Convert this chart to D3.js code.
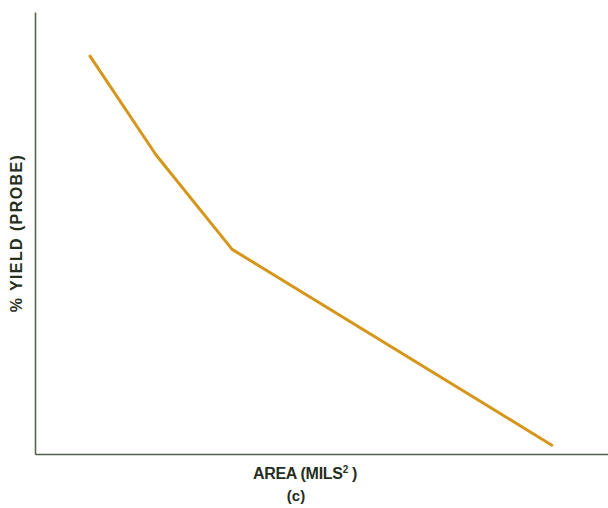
<!DOCTYPE html>
<html>
<head>
<meta charset="utf-8">
<script src="https://cdn.jsdelivr.net/npm/d3@7"></script>
<style>
  html, body { margin: 0; padding: 0; background: #ffffff; }
  svg { display: block; }
  text { font-family: "Liberation Sans", Arial, Helvetica, sans-serif; font-weight: bold; fill: #262e1e; }
</style>
</head>
<body>
<svg id="chart" width="608" height="508"></svg>
<script>
// Yield versus die area (relative units, no tick scale shown)
const areaValues  = [0.96, 2.11, 3.44, 9.02];
const yieldValues = [90.0, 67.7, 46.3, 2.0];
const xTitle = "AREA (MILS";
const yTitle = "% YIELD (PROBE)";
const caption = "(c)";

const svg = d3.select("#chart");
const plot = { left: 35, right: 608, top: 12, bottom: 454 };

const x = d3.scaleLinear().domain([0, 10]).range([plot.left, plot.right]);
const y = d3.scaleLinear().domain([0, 100]).range([plot.bottom, plot.top]);

// Axes: bare lines, no ticks or labels
const xAxis = d3.axisBottom(x).tickValues([]).tickSizeOuter(0);
const yAxis = d3.axisLeft(y).tickValues([]).tickSizeOuter(0);

svg.append("g")
  .attr("transform", `translate(0,${plot.bottom})`)
  .call(xAxis)
  .select(".domain")
  .attr("stroke", "#4f5f4a")
  .attr("stroke-width", 1.6);

svg.append("g")
  .attr("transform", `translate(${plot.left},0)`)
  .call(yAxis)
  .select(".domain")
  .attr("stroke", "#56664f")
  .attr("stroke-width", 1.6);

// Yield curve
const pts = areaValues.map((a, i) => [a, yieldValues[i]]);
svg.append("path")
  .datum(pts)
  .attr("fill", "none")
  .attr("stroke", "#d6961c")
  .attr("stroke-width", 3)
  .attr("stroke-linejoin", "round")
  .attr("stroke-linecap", "round")
  .attr("d", d3.line().x(d => x(d[0])).y(d => y(d[1])));

// X axis title with superscript
const xt = svg.append("text")
  .attr("x", 305)
  .attr("y", 479)
  .attr("text-anchor", "middle")
  .attr("font-size", 16)
  .attr("letter-spacing", -0.3);
xt.append("tspan").text(xTitle);
xt.append("tspan").attr("dy", -6).attr("font-size", 10).text("2");
xt.append("tspan").attr("dy", 6).text(" )");

// Caption
svg.append("text")
  .attr("x", 296)
  .attr("y", 501)
  .attr("text-anchor", "middle")
  .attr("font-size", 15)
  .text(caption);

// Y axis title
svg.append("text")
  .attr("transform", "translate(22,233) rotate(-90)")
  .attr("text-anchor", "middle")
  .attr("font-size", 16)
  .attr("letter-spacing", 1.4)
  .text(yTitle);
</script>
</body>
</html>
